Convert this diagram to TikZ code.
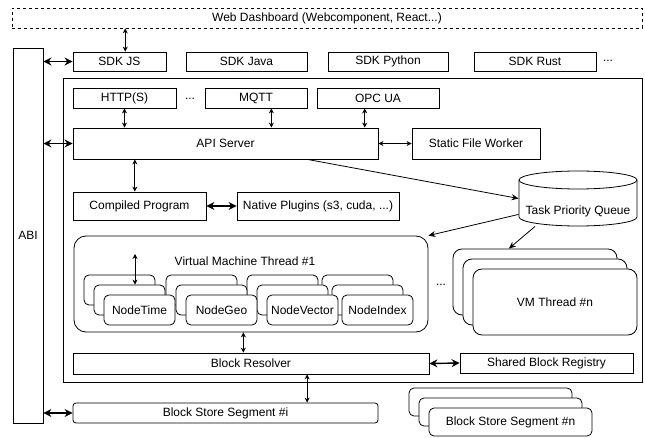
\documentclass[tikz,border=0pt]{standalone}
\usepackage{fontspec}
\setmainfont{Liberation Sans}
\usetikzlibrary{arrows.meta}
\tikzset{
  box/.style={draw, fill=white, inner sep=0pt, align=center},
  round box/.style={box, rounded corners=#1},
  round box/.default=5pt,
  nd box/.style={round box, minimum width=71pt, minimum height=30pt},
  vm box/.style={round box=9pt, minimum width=164pt, minimum height=66pt},
  link/.style={{Stealth[length=5pt,width=5pt]}-{Stealth[length=5pt,width=5pt]}},
  big link/.style={{Stealth[length=8pt,width=8pt]}-{Stealth[length=8pt,width=8pt]}, line width=1.4pt},
  one way/.style={-{Stealth[length=7pt,width=6pt]}},
  }

\begin{document}
\begin{tikzpicture}[x=1pt, y=-1pt, line width=0.8pt, font=\fontsize{12}{14}\selectfont]
            \useasboundingbox (0,0) rectangle (645,438);

            % Outline
            \node[draw, minimum width=579pt, minimum height=304pt] (core) at (352.5,230) {};
            \node[box, dashed, dash pattern=on 3pt off 3pt, minimum width=630pt, minimum height=20pt] (web) at (327,18) {Web Dashboard (Webcomponent, React...)};
            \node[box, minimum width=30pt, minimum height=375pt] (abi) at (28,235.5) {ABI};

            % SDKs
            \node[box, minimum width=93pt,  minimum height=19pt] (sdkjs)   at (119.5,61.5) {SDK JS};
            \node[box, minimum width=121pt, minimum height=19pt] (sdkjava) at (246.5,61.5) {SDK Java};
            \node[box, minimum width=120pt, minimum height=19pt] (sdkpy)   at (388,61.5)   {SDK Python};
            \node[box, minimum width=122pt, minimum height=19pt] (sdkrust) at (535,61.5)   {SDK Rust};
            \node (dotsa) at (608,61) {...};

            % Protocols
            \node[box, minimum width=103pt, minimum height=20pt] (http) at (124.5,98) {HTTP(S)};
            \node (dotsb) at (190,99) {...};
            \node[box, minimum width=102pt, minimum height=20pt] (mqtt) at (256,98)   {MQTT};
            \node[box, minimum width=122pt, minimum height=20pt] (opc)  at (378,98)   {OPC UA};

            \node[box, minimum width=305pt, minimum height=31pt] (api) at (225.5,143.5) {API Server};
            \node[box, minimum width=128pt, minimum height=31pt] (sfw) at (476,143.5)   {Static File Worker};
            \node[box, minimum width=133pt, minimum height=28pt] (comp) at (139.5,206) {Compiled Program};
            \node[box, minimum width=162pt, minimum height=28pt] (nat)  at (318,206)   {Native Plugins (s3, cuda, ...)};

            % Queue
            \node[inner sep=0pt, minimum width=118pt, minimum height=55pt] (tpq) at (578,198.5) {};
            \draw[fill=white] (519,180) -- (519,217) arc[start angle=180, end angle=0, x radius=59, y radius=9]
                -- (637,180) arc[start angle=0, end angle=-180, x radius=59, y radius=9] -- cycle;
            \draw (519,180) arc[start angle=180, end angle=0, x radius=59, y radius=9];
            \node (tpqname) at (578,211) {Task Priority Queue};

            % Thread #1
            \node[round box=12pt, minimum width=354pt, minimum height=96pt] (vm1) at (251,284) {};
            \node (vmname) at (245,261) {Virtual Machine Thread \#1};
            \node[nd box] (ntimea) at (119.5,290) {};
            \node[nd box] (ngeoa)  at (201.5,290) {};
            \node[nd box] (nveca)  at (282.5,290) {};
            \node[nd box] (nidxa)  at (357.5,290) {};
            \node[nd box] (ntimeb) at (129.5,300) {};
            \node[nd box] (ngeob)  at (211.5,300) {};
            \node[nd box] (nvecb)  at (292.5,300) {};
            \node[nd box] (nidxb)  at (367.5,300) {};
            \node[nd box] (ntime)  at (139.5,310) {NodeTime};
            \node[nd box] (ngeo)   at (221.5,310) {NodeGeo};
            \node[nd box] (nvec)   at (302.5,310) {NodeVector};
            \node[nd box] (nidx)   at (377.5,310) {NodeIndex};
            \coordinate (vmin) at (135,254);

            % Thread #n
            \node (dotsc) at (441,285) {...};
            \node[vm box] (vmna) at (535,282) {};
            \node[vm box] (vmnb) at (545,292) {};
            \node[vm box] (vmn)  at (555,302) {VM Thread \#n};

            % Blocks
            \node[box, minimum width=356pt, minimum height=21pt] (br)  at (251,363.5) {Block Resolver};
            \node[box, minimum width=173pt, minimum height=20pt] (sbr) at (546.5,363) {Shared Block Registry};
            \node[round box=3pt, minimum width=305pt, minimum height=20pt] (bssi) at (225.5,413) {Block Store Segment \#i};
            \node[round box, minimum width=163pt, minimum height=28pt] (bssna) at (490.5,402) {};
            \node[round box, minimum width=163pt, minimum height=28pt] (bssnb) at (500.5,412) {};
            \node[round box, minimum width=163pt, minimum height=28pt] (bssn)  at (510.5,422) {Block Store Segment \#n};

            % Arrows
            \draw[link] (sdkjs.60) -- (sdkjs.60 |- web.south);
            \draw[big link] (sdkjs.west) -- (sdkjs.west -| abi.east);
            \draw[big link] (api.west) -- (api.west -| abi.east);
            \draw[big link] (bssi.west) -- (bssi.west -| abi.east);
            \draw[link] (http.south) -- (http.south |- api.north);
            \draw[link] (mqtt.-34) -- (mqtt.-34 |- api.north);
            \draw[link] (opc.218) -- (opc.218 |- api.north);
            \draw[link] (api.east) -- (sfw.west);
            \draw[link] (comp.108) -- (comp.108 |- api.south);
            \draw[big link] (comp.east) -- (nat.west);
            \draw[one way] (api.349) -- (tpq.west);
            \draw[one way] (tpq.195) -- (vm1.north east);
            \draw[one way] (tpq.213) -- (vmna.128);
            \draw[link] (vmin) -- (vmin |- ntimeb.north);
            \draw[link] (vm1.261) -- (vm1.261 |- br.north);
            \draw[big link] (br.east) -- (sbr.west);
            \draw[link] (br.349) -- (br.349 |- bssi.north);
\end{tikzpicture}
\end{document}
